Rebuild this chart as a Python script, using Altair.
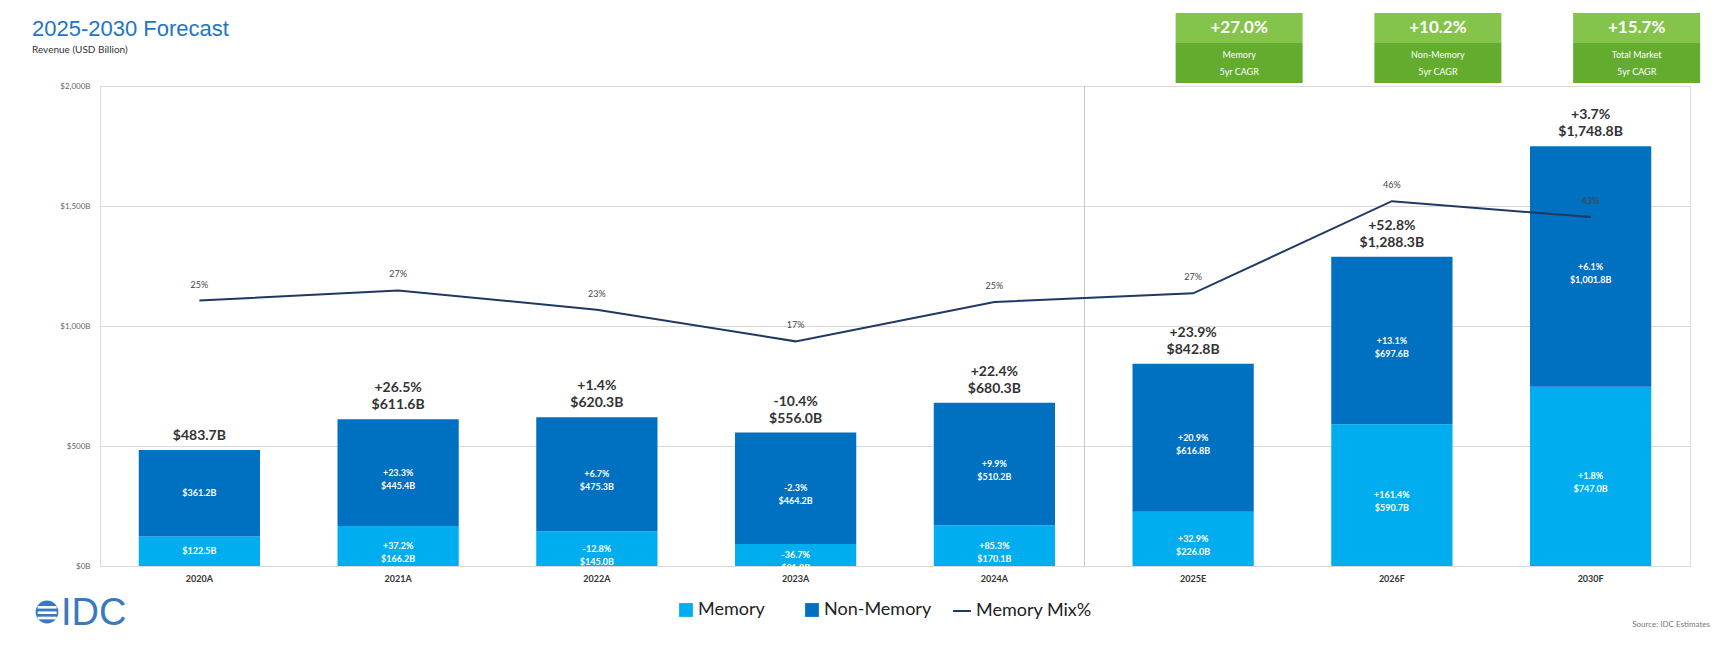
import altair as alt
import pandas as pd

# ---------------- data ----------------
years = ["2020A", "2021A", "2022A", "2023A", "2024A", "2025E", "2026F", "2030F"]
memory = [122.5, 166.2, 145.0, 91.8, 170.1, 226.0, 590.7, 747.0]
non_memory = [361.2, 445.4, 475.3, 464.2, 510.2, 616.8, 697.6, 1001.8]
memory_growth = ["", "+37.2%", "-12.8%", "-36.7%", "+85.3%", "+32.9%", "+161.4%", "+1.8%"]
non_memory_growth = ["", "+23.3%", "+6.7%", "-2.3%", "+9.9%", "+20.9%", "+13.1%", "+6.1%"]
total_growth = ["", "+26.5%", "+1.4%", "-10.4%", "+22.4%", "+23.9%", "+52.8%", "+3.7%"]
memory_mix = [25.3, 27.4, 23.4, 16.8, 25.0, 26.8, 46.0, 42.7]
mix_labels = ["25%", "27%", "23%", "17%", "25%", "27%", "46%", "43%"]
y_ticks = [0, 500, 1000, 1500, 2000]
series_names = ["Memory", "Non-Memory"]
mix_name = "Memory Mix%"
kpi_years = ["2025E", "2026F", "2030F"]
kpi_values = ["+27.0%", "+10.2%", "+15.7%"]
kpi_names = ["Memory", "Non-Memory", "Total Market"]
kpi_sub = ["5yr CAGR", "5yr CAGR", "5yr CAGR"]
forecast_start = ["2025E"]

FONT = "Lato"
C_MEM = "#00AEEF"
C_NON = "#0070C0"
C_LINE = "#1F3864"


def money(v):
    return f"${v:,.1f}B"


# ---------------- tables ----------------
seg_rows = []
for i, y in enumerate(years):
    m, n = memory[i], non_memory[i]
    seg_rows.append(dict(year=y, series="Memory", start=0, end=m, mid=m / 2,
                         label=(memory_growth[i] + "\n" if memory_growth[i] else "") + money(m)))
    seg_rows.append(dict(year=y, series="Non-Memory", start=m, end=m + n, mid=m + n / 2,
                         label=(non_memory_growth[i] + "\n" if non_memory_growth[i] else "") + money(n)))
seg = pd.DataFrame(seg_rows)

tot = pd.DataFrame(dict(year=years,
                        total=[m + n for m, n in zip(memory, non_memory)],
                        growth=total_growth))
tot["total_label"] = tot["total"].map(money)

mix = pd.DataFrame(dict(year=years, mix=memory_mix, label=mix_labels, name=[mix_name] * len(years)))
kpi = pd.DataFrame(dict(year=kpi_years, value=kpi_values, name=kpi_names, sub=kpi_sub))

x_scale = alt.Scale(domain=years, paddingInner=0.39, paddingOuter=0.195)
x_enc = alt.X("year:N", scale=x_scale, sort=years,
              axis=alt.Axis(title=None, labelFontSize=9, labelFontWeight="bold", labelColor="#333",
                            ticks=False, domain=True, domainColor="#d9d9d9", labelPadding=8,
                            labelAngle=0, labelFont=FONT))
y_scale = alt.Scale(domain=[0, 2000], nice=False)

# ---------------- bars ----------------
bars = alt.Chart(seg).mark_bar().encode(
    x=x_enc,
    y=alt.Y("start:Q", scale=y_scale,
            axis=alt.Axis(title=None, values=y_ticks,
                          labelExpr="'$' + format(datum.value, ',') + 'B'",
                          labelFontSize=8, labelColor="#666", ticks=False, domain=True,
                          domainColor="#d9d9d9", gridColor="#d9d9d9", labelPadding=10,
                          labelFont=FONT)),
    y2="end:Q",
    color=alt.Color("series:N", scale=alt.Scale(domain=series_names, range=[C_MEM, C_NON]),
                    legend=alt.Legend(title=None, orient="none", legendX=577, legendY=515,
                                      direction="horizontal", symbolType="square",
                                      symbolSize=190, labelFontSize=18, labelColor="#222",
                                      labelFont=FONT, columnPadding=38, labelOffset=3,
                                      padding=0, symbolStrokeWidth=0)),
)

seg_text = alt.Chart(seg).mark_text(color="white", fontSize=9, fontWeight="bold", lineBreak="\n",
                                    baseline="middle", lineHeight=13, font=FONT).encode(
    x=alt.X("year:N", scale=x_scale, sort=years),
    y=alt.Y("mid:Q", scale=y_scale),
    text="label:N",
)

tot_text = alt.Chart(tot).mark_text(dy=-14, fontSize=14, fontWeight="bold", color="#333",
                                    baseline="middle", font=FONT).encode(
    x=alt.X("year:N", scale=x_scale, sort=years),
    y=alt.Y("total:Q", scale=y_scale),
    text="total_label:N",
)
growth_text = alt.Chart(tot).mark_text(dy=-31, fontSize=14, fontWeight="bold", color="#333",
                                       baseline="middle", font=FONT).encode(
    x=alt.X("year:N", scale=x_scale, sort=years),
    y=alt.Y("total:Q", scale=y_scale),
    text="growth:N",
)

sep = alt.Chart(pd.DataFrame(dict(year=forecast_start))).mark_rule(
    color="#c8c8c8", strokeWidth=1, xOffset=-48).encode(
    x=alt.X("year:N", scale=x_scale, sort=years, bandPosition=0),
)

# ---------------- KPI boxes ----------------
kpi_top = alt.Chart(kpi).mark_bar(width=127, color="#84C44A", xOffset=46).encode(
    x=alt.X("year:N", scale=x_scale, sort=years),
    y=alt.value(-73), y2=alt.value(-43),
)
kpi_bot = alt.Chart(kpi).mark_bar(width=127, color="#64AC2E", xOffset=46).encode(
    x=alt.X("year:N", scale=x_scale, sort=years),
    y=alt.value(-43), y2=alt.value(-3),
)
kpi_val = alt.Chart(kpi).mark_text(dx=46, color="white", fontSize=17, fontWeight="bold",
                                   baseline="middle", font=FONT).encode(
    x=alt.X("year:N", scale=x_scale, sort=years), y=alt.value(-58), text="value:N")
kpi_nm = alt.Chart(kpi).mark_text(dx=46, color="white", fontSize=9, baseline="middle",
                                  font=FONT).encode(
    x=alt.X("year:N", scale=x_scale, sort=years), y=alt.value(-31), text="name:N")
kpi_sb = alt.Chart(kpi).mark_text(dx=46, color="white", fontSize=9, baseline="middle",
                                  font=FONT).encode(
    x=alt.X("year:N", scale=x_scale, sort=years), y=alt.value(-14), text="sub:N")

# ---------------- titles / logo / source ----------------
one = pd.DataFrame(dict(t=["2025-2030 Forecast"], s=["Revenue (USD Billion)"],
                        logo=["IDC"], stripes=["\u2261"], src=["Source: IDC Estimates"]))
title = alt.Chart(one).mark_text(align="left", baseline="alphabetic", fontSize=22,
                                 color="#2375C4", font="Liberation Sans").encode(
    text="t:N", x=alt.value(-68), y=alt.value(-50))
subtitle = alt.Chart(one).mark_text(align="left", baseline="alphabetic", fontSize=10,
                                    color="#333", font=FONT).encode(
    text="s:N", x=alt.value(-68), y=alt.value(-33))
logo = alt.Chart(one).mark_text(align="left", baseline="alphabetic", fontSize=38,
                                color="#3A78C2", font="Liberation Sans").encode(
    text="logo:N", x=alt.value(-39), y=alt.value(539))
globe = alt.Chart(one).mark_circle(size=520, color="#3A78C2", opacity=1).encode(
    x=alt.value(-53), y=alt.value(526))
globe_lines = alt.Chart(one).mark_text(fontSize=30, color="white", baseline="middle",
                                       font="DejaVu Sans").encode(
    text="stripes:N", x=alt.value(-53), y=alt.value(527))
source = alt.Chart(one).mark_text(align="right", baseline="alphabetic", fontSize=8,
                                  color="#777", font=FONT).encode(
    text="src:N", x=alt.value(1610), y=alt.value(541))

# ---------------- line ----------------
mix_scale = alt.Scale(domain=[-30, 70], nice=False)
line = alt.Chart(mix).mark_line(strokeWidth=2).encode(
    x=alt.X("year:N", scale=x_scale, sort=years),
    y=alt.Y("mix:Q", scale=mix_scale, axis=None),
    stroke=alt.Stroke("name:N", scale=alt.Scale(domain=[mix_name], range=[C_LINE]),
                      legend=alt.Legend(title=None, orient="none", legendX=852, legendY=515,
                                        symbolType="stroke", symbolSize=320,
                                        symbolStrokeWidth=2, labelFontSize=18,
                                        labelColor="#222", labelFont=FONT, labelOffset=4,
                                        padding=0)),
)
line_text = alt.Chart(mix).mark_text(dy=-16, fontSize=9, color="#444", font=FONT).encode(
    x=alt.X("year:N", scale=x_scale, sort=years),
    y=alt.Y("mix:Q", scale=mix_scale, axis=None),
    text="label:N",
)

left = alt.layer(bars, sep, seg_text, tot_text, growth_text,
                 kpi_top, kpi_bot, kpi_val, kpi_nm, kpi_sb,
                 title, subtitle, logo, globe, globe_lines, source)
right = alt.layer(line, line_text)

chart = alt.layer(left, right).resolve_scale(y="independent").properties(
    width=1590, height=480,
    padding={"left": 92, "top": 78, "right": 30, "bottom": 70},
    autosize=alt.AutoSizeParams(type="none"),
).configure_view(stroke=None).configure(font=FONT)

chart.save("out.html", embed_options={"renderer": "svg", "actions": False})
